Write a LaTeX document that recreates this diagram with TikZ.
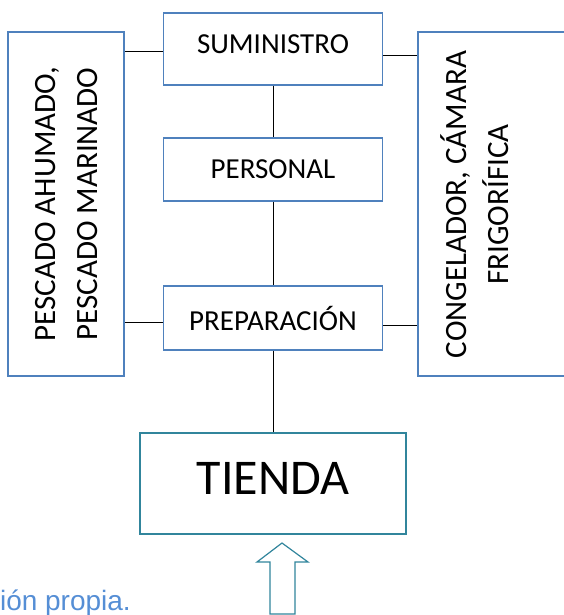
\documentclass[tikz,border=0pt]{standalone}
\usepackage{fontspec}
\setmainfont{Carlito}
\newfontfamily\arialfont{Liberation Sans}
\definecolor{boxblue}{HTML}{4F81BD}
\definecolor{shopteal}{HTML}{31859C}
\definecolor{notablue}{HTML}{558ED5}

\begin{document}
\begin{tikzpicture}[x=1pt, y=-1pt,
    stage/.style={draw=boxblue, line width=1.2pt, minimum width=219pt, inner sep=0pt, font=\fontsize{29}{35}\selectfont},
    side/.style={draw=boxblue, line width=1.2pt, minimum height=344pt, inner sep=0pt},
    sidetext/.style={rotate=90, align=center, inner sep=0pt, font=\fontsize{31}{42}\selectfont},
    link/.style={draw=black, line width=1pt}]
    \useasboundingbox (0,0) rectangle (564,615);

    \node [stage, minimum height=72pt, text depth=10pt] (sum) at (273,49) {SUMINISTRO};
    \node [stage, minimum height=63pt] (pers) at (273,169.5) {PERSONAL};
    \node [stage, minimum height=64pt] (prep) at (273,318) {PREPARACIÓN};

    \node [side, minimum width=116pt] (pesc) at (66,204) {};
    \node [sidetext] (pesctxt) at (67,204) {PESCADO AHUMADO,\\PESCADO MARINADO};

    \node [side, minimum width=202pt] (frio) at (519,204) {};
    \node [sidetext] (friotxt) at (475,204.5) {CONGELADOR, CÁMARA\\FRIGORÍFICA};

    \node [draw=shopteal, line width=1.5pt, minimum width=266pt, minimum height=101pt, inner sep=0pt,
           text depth=10pt, font=\fontsize{50}{60}\selectfont] (tienda) at (273,483.5) {TIENDA};

    \draw [link] (sum) -- (pers);
    \draw [link] (pers) -- (prep);
    \draw [link] (prep) -- (tienda);

    \draw [link] (sum.west |- 0,52) -- (pesc.east |- 0,52);
    \draw [link] (sum.east |- 0,56) -- (frio.west |- 0,56);
    \draw [link] (prep.west |- 0,322) -- (pesc.east |- 0,322);
    \draw [link] (prep.east |- 0,325) -- (frio.west |- 0,325);

    % flecha de entrada
    \coordinate (tip) at (282,543);
    \draw [draw=shopteal, line width=1.2pt, fill=white] (tip) -- ++(26,19) -- ++(-13,0) -- ++(0,52)
        -- ++(-25,0) -- ++(0,-52) -- ++(-13,0) -- cycle;

    \node [font=\arialfont\fontsize{28}{34}\selectfont, text=notablue, anchor=base east, inner sep=0pt] (nota) at (131,610) {ión propia.};
\end{tikzpicture}
\end{document}
